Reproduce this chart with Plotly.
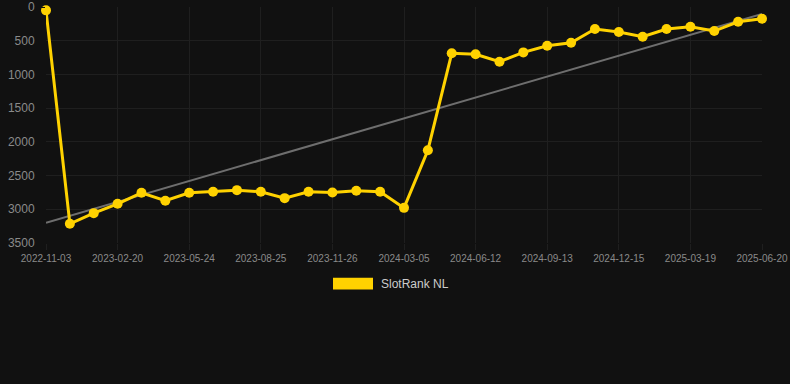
import numpy as np
import plotly.graph_objects as go

dates = [
    "2022-11-03", "2022-12-08", "2023-01-14", "2023-02-20", "2023-03-23", "2023-04-23",
    "2023-05-24", "2023-06-24", "2023-07-25", "2023-08-25", "2023-09-25", "2023-10-26",
    "2023-11-26", "2023-12-29", "2024-01-31", "2024-03-05", "2024-04-07", "2024-05-10",
    "2024-06-12", "2024-07-13", "2024-08-13", "2024-09-13", "2024-10-14", "2024-11-14",
    "2024-12-15", "2025-01-15", "2025-02-16", "2025-03-19", "2025-04-19", "2025-05-20",
    "2025-06-20",
]
rank = [
    50, 3215, 3057, 2919, 2756, 2874, 2756, 2741, 2716, 2741, 2835, 2741, 2751, 2726, 2741,
    2979, 2124, 687, 702, 811, 673, 574, 530, 327, 372, 441, 327, 293, 357, 219, 175,
]
tick_labels = dates[::3]
y_ticks = [0, 500, 1000, 1500, 2000, 2500, 3000, 3500]
series_name = "SlotRank NL"

# linear trend (least squares over the point index)
idx = np.arange(len(rank))
slope, intercept = np.polyfit(idx, rank, 1)
trend = slope * idx + intercept

fig = go.Figure()
fig.add_trace(go.Scatter(
    x=dates, y=trend, mode="lines",
    line=dict(color="#6e6e6e", width=2),
    hoverinfo="skip", showlegend=False, cliponaxis=False,
))
fig.add_trace(go.Scatter(
    x=dates, y=rank, mode="lines+markers", name=series_name,
    line=dict(color="#FFD200", width=3),
    marker=dict(color="#FFD200", size=10),
    showlegend=False, cliponaxis=False,
))

grid = "#1f1f1f"
fig.update_layout(
    width=790, height=384,
    margin=dict(l=46, r=28, t=7, b=141, autoexpand=False),
    paper_bgcolor="#111111", plot_bgcolor="#111111",
    font=dict(family="Arial, Liberation Sans, sans-serif", color="#8a8a8a"),
    xaxis=dict(
        type="category", range=[0, len(dates) - 1], automargin=False,
        tickmode="array", tickvals=tick_labels, ticktext=tick_labels,
        tickfont=dict(size=10, color="#8a8a8a"),
        showgrid=True, gridcolor=grid, gridwidth=1,
        ticks="outside", ticklen=6, tickcolor=grid,
        showline=False, zeroline=False,
    ),
    yaxis=dict(
        range=[3500, 0], tickvals=y_ticks, automargin=False,
        tickfont=dict(size=12, color="#8a8a8a"),
        showgrid=True, gridcolor=grid, gridwidth=1,
        ticks="outside", ticklen=8, tickcolor="#111111",
        showline=False, zeroline=False,
    ),
    shapes=[dict(
        type="rect", xref="paper", yref="paper",
        x0=(333 - 46) / 716, x1=(373 - 46) / 716,
        y0=(243.3 - 290) / 236.4, y1=(243.3 - 278) / 236.4,
        fillcolor="#FFD200", line=dict(width=0),
    )],
    annotations=[dict(
        text=series_name, xref="paper", yref="paper",
        x=(379 - 46) / 716, y=(243.3 - 284.5) / 236.4,
        xanchor="left", yanchor="middle", showarrow=False,
        font=dict(size=12, color="#cccccc"),
    )],
)

fig.write_html("out.html")
